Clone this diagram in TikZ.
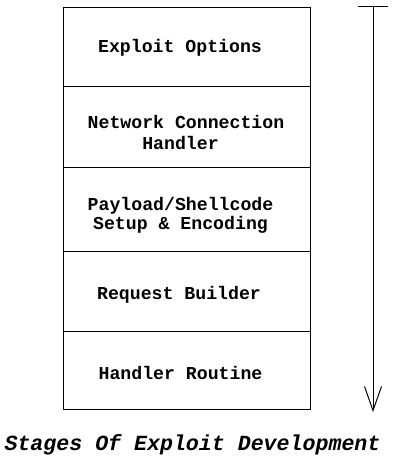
\documentclass[tikz,border=0pt]{standalone}
\usepackage{fontspec}
\setmonofont{Liberation Mono}
\usetikzlibrary{arrows.meta, positioning}

\begin{document}
\begin{tikzpicture}[x=1pt, y=-1pt,
  stage/.style={draw, line width=1pt, minimum width=247pt, inner sep=0pt, outer sep=0pt},
  stagetext/.style={align=center, inner sep=0pt, font=\ttfamily\bfseries\fontsize{18.2}{20}\selectfont},
  flow/.style={line width=1pt, {Bar[width=30pt]}-{Straight Barb[length=24pt,width=17pt]}}]
\useasboundingbox (0,0) rectangle (410,463);
% the five stages, stacked
\node[stage, minimum height=79pt, anchor=north west] (opts) at (63,7) {};
\node[stage, minimum height=81pt, below=0pt of opts] (conn) {};
\node[stage, minimum height=84pt, below=0pt of conn] (payload) {};
\node[stage, minimum height=80pt, below=0pt of payload] (req) {};
\node[stage, minimum height=78pt, below=0pt of req] (hand) {};
% their texts
\node[stagetext, anchor=base] (optstext) at (180,52.7) {Exploit Options};
\node[stagetext, xshift=-6pt, yshift=-6pt] (conntext) at (conn) {\hphantom{N}Network Connection\\[1.5pt]Handler};
\node[stagetext, xshift=-6pt, yshift=-6pt] (payloadtext) at (payload) {Payload/Shellcode\\[-1pt]Setup \& Encoding};
\node[stagetext, anchor=base] (reqtext) at (179,299.3) {Request Builder};
\node[stagetext, anchor=base] (handtext) at (180.5,379.3) {Handler Routine};
% direction of development
\coordinate (start) at (373,6);
\coordinate (stop) at (373,412);
\draw[flow] (start) -- (stop);
\node[anchor=base, inner sep=0pt, font=\ttfamily\bfseries\itshape\fontsize{21.6}{24}\selectfont] (caption) at (192.5,450) {Stages Of Exploit Development};
\end{tikzpicture}
\end{document}
